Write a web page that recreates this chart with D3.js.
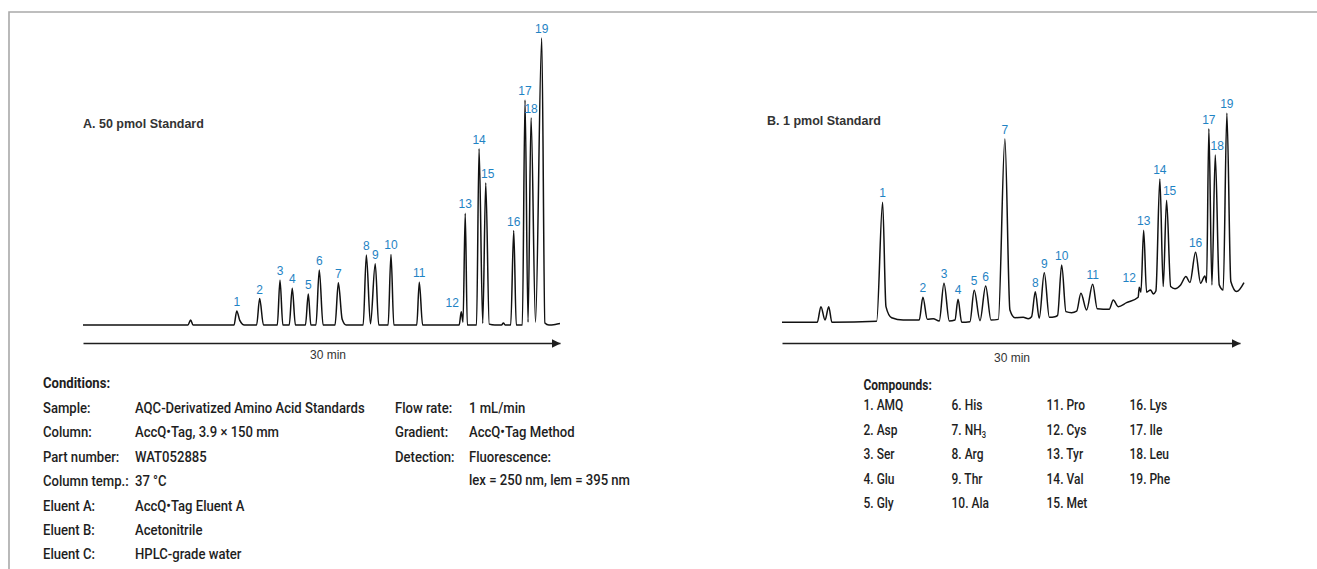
<!DOCTYPE html>
<html lang="en">
<head>
<meta charset="UTF-8">
<script src="https://d3js.org/d3.v7.min.js"></script>
<title>AccQ-Tag amino acid standards</title>
<style>
  body { margin: 0; background: #fff; }
  svg { display: block; }
</style>
</head>
<body>
<svg id="plot"></svg>
<script>
// peak numbers, same order in both runs
const peakNo = [1, 2, 3, 4, 5, 6, 7, 8, 9, 10, 11, 12, 13, 14, 15, 16, 17, 18, 19];

// A. 50 pmol standard: apex time (min) and signal (% of tallest peak)
const peakTimeA   = [9.67, 11.11, 12.39, 13.16, 14.17, 14.86, 16.06, 17.82, 18.38, 19.37, 21.15, 23.79, 24.04, 24.91, 25.33, 27.09, 27.80, 28.18, 28.85];
const peakHeightA = [4.9, 9.2, 15.6, 12.8, 10.8, 19.2, 14.7, 24.4, 21.3, 24.6, 14.9, 4.6, 38.9, 61.4, 49.5, 32.9, 78.4, 72.2, 100];
// points of the trace between the apexes (feet, valleys, small unnumbered bumps)
const baseTimeA   = [0, 6.60, 6.77, 6.92, 9.50, 9.86, 10.15, 10.92, 11.35, 12.22, 12.57, 12.97, 13.36, 13.99, 14.33, 14.65, 15.10,
                     15.85, 16.30, 16.55, 17.62, 18.08, 18.60, 19.19, 19.55, 20.99, 21.36, 23.66, 23.90, 24.17, 24.75, 25.14,
                     25.55, 25.90, 26.32, 26.44, 26.55, 26.90, 27.25, 27.63, 27.99, 28.46, 29.05, 29.30, 29.70, 30.0];
const baseSignalA = [0, 0, 1.7, 0, 0, 1.6, 0, 0, 0, 0, 0, 0, 0, 0, 0, 0, 0,
                     0, 2.0, 0, 0, 0.4, 0, 0, 0, 0, 0, 0, 1.0, 0, 0, 0.6,
                     0.3, 0, 0, 0.7, 0, 0, 0, 0, 1.0, 1.0, 0.7, 0, 0.2, 0.5];

// B. 1 pmol standard
const peakTimeB   = [6.59, 9.23, 10.61, 11.53, 12.59, 13.34, 14.60, 16.59, 17.18, 18.32, 20.35, 23.40, 23.69, 24.75, 25.19, 27.09, 27.96, 28.38, 29.14];
const peakHeightB = [57.4, 12.0, 18.7, 11.0, 15.3, 17.4, 87.7, 14.6, 23.7, 27.4, 18.2, 16.8, 44.0, 68.6, 58.4, 33.5, 92.6, 80.0, 100];
const baseTimeB   = [0, 2.31, 2.55, 2.82, 3.06, 3.27, 6.20, 6.81, 7.18, 7.94, 8.99, 9.52, 9.91, 10.30, 10.96, 11.33, 11.77, 12.31,
                     12.97, 13.69, 14.17, 14.93, 15.26, 15.80, 16.13, 16.35, 16.85, 17.51, 17.88, 18.05, 18.60, 18.97, 19.30,
                     19.58, 19.95, 20.65, 21.43, 21.70, 22.02, 22.57, 23.33, 23.51, 23.88, 24.14, 24.32, 24.49, 24.97, 25.46,
                     25.74, 26.11, 26.46, 26.72, 27.42, 27.70, 27.81, 28.16, 28.64, 28.90, 29.40, 29.78, 30.26];
const baseSignalB = [0, 0, 7.5, 1.1, 7.5, 0, 0.5, 7.5, 2.2, 1.1, 1.1, 1.4, 1.7, 0.6, 0.6, 1.1, 0, 0.3,
                     0.8, 1.1, 1.4, 5.9, 2.2, 2.4, 1.7, 2.7, 1.9, 2.4, 2.7, 3.3, 5.1, 4.6, 5.3,
                     13.9, 5.9, 6.5, 6.2, 10.7, 7.5, 9.4, 12.0, 14.4, 14.4, 15.5, 13.6, 15.0, 17.1, 17.1,
                     16.1, 17.9, 21.9, 19.0, 18.7, 22.2, 19.0, 17.9, 17.9, 15.5, 19.5, 14.7, 19.0];

// conditions table
const condLabels  = ["Sample:", "Column:", "Part number:", "Column temp.:", "Eluent A:", "Eluent B:", "Eluent C:"];
const condValues  = ["AQC-Derivatized Amino Acid Standards", "AccQ\u2022Tag, 3.9 \u00d7 150 mm", "WAT052885", "37 \u00b0C",
                     "AccQ\u2022Tag Eluent A", "Acetonitrile", "HPLC-grade water"];
const condLabels2 = ["Flow rate:", "Gradient:", "Detection:", ""];
const condValues2 = ["1 mL/min", "AccQ\u2022Tag Method", "Fluorescence:", "lex = 250 nm, lem = 395 nm"];

// compounds legend
const compoundNames = ["AMQ", "Asp", "Ser", "Glu", "Gly", "His", "NH3", "Arg", "Thr", "Ala",
                       "Pro", "Cys", "Tyr", "Val", "Met", "Lys", "Ile", "Leu", "Phe"];

const width = 1317, height = 569;
const svg = d3.select("#plot").attr("width", width).attr("height", height);

const ink = "#1e1e1e";
const labelBlue = "#1f83c4";
const sansFont = "'Liberation Sans', Arial, sans-serif";
const narrowFont = "Roboto, 'Noto Sans', sans-serif";

// frame line, top and left
svg.append("path")
    .attr("d", `M${width},12 H9 V${height}`)
    .attr("fill", "none")
    .attr("stroke", "#a9a9a9")
    .attr("stroke-width", 1.6);

svg.append("defs").append("marker")
    .attr("id", "arrow")
    .attr("markerUnits", "userSpaceOnUse")
    .attr("markerWidth", 10).attr("markerHeight", 10)
    .attr("viewBox", "0 -5 10 10")
    .attr("refX", 9).attr("refY", 0)
    .attr("orient", "auto")
    .append("path")
    .attr("d", "M0,-4.5 L9,0 L0,4.5 Z")
    .attr("fill", ink);

function drawRun(run) {
    const x = d3.scaleLinear().domain([0, 30]).range(run.xRange);
    const y = d3.scaleLinear().domain([0, 100]).range(run.yRange);

    const peaks = peakNo.map((n, i) => ({ n: n, t: run.peakTime[i], s: run.peakHeight[i] }));
    const pts = run.baseTime.map((t, i) => ({ t: t, s: run.baseSignal[i] }))
        .concat(peaks)
        .sort((a, b) => a.t - b.t);

    const line = d3.line()
        .x(d => x(d.t))
        .y(d => y(d.s))
        .curve(d3.curveMonotoneX);

    const g = svg.append("g");
    g.append("path")
        .attr("d", line(pts))
        .attr("fill", "none")
        .attr("stroke", "#111")
        .attr("stroke-width", 1.5)
        .attr("stroke-linejoin", "round");

    // time axis: plain arrow, no ticks
    const axis = d3.axisBottom(x).tickValues([]).tickSizeOuter(0);
    g.append("g")
        .attr("transform", `translate(0,${run.axisY})`)
        .call(axis)
        .call(a => a.select(".domain")
            .attr("stroke", ink)
            .attr("stroke-width", 1.5)
            .attr("marker-end", "url(#arrow)"));

    g.append("text")
        .attr("x", run.minLabel[0]).attr("y", run.minLabel[1])
        .attr("text-anchor", "middle")
        .attr("font-family", sansFont).attr("font-size", 12)
        .attr("fill", "#333")
        .text("30 min");

    g.append("text")
        .attr("x", run.title[0]).attr("y", run.title[1])
        .attr("font-family", sansFont).attr("font-size", 12.5)
        .attr("font-weight", "bold")
        .attr("fill", "#333")
        .text(run.name);

    g.selectAll(".pk")
        .data(peaks)
        .enter().append("text")
        .attr("class", "pk")
        .attr("x", d => x(d.t) + (run.nudge[d.n] || 0))
        .attr("y", d => y(d.s) - 5)
        .attr("text-anchor", "middle")
        .attr("font-family", sansFont).attr("font-size", 12)
        .attr("fill", labelBlue)
        .text(d => d.n);
}

drawRun({
    name: "A. 50 pmol Standard",
    peakTime: peakTimeA, peakHeight: peakHeightA,
    baseTime: baseTimeA, baseSignal: baseSignalA,
    xRange: [83, 560], yRange: [325, 38], axisY: 343,
    title: [83, 128], minLabel: [328, 359],
    nudge: { 12: -9, 15: 2 }
});

drawRun({
    name: "B. 1 pmol Standard",
    peakTime: peakTimeB, peakHeight: peakHeightB,
    baseTime: baseTimeB, baseSignal: baseSignalB,
    xRange: [782, 1240], yRange: [322.3, 113.3], axisY: 343,
    title: [767, 124.5], minLabel: [1012, 362],
    nudge: { 12: -10, 15: 3, 18: 2 }
});

// condensed text helper (the table face is a narrow one)
function narrow(sel, x, y, str, size, squeeze, bold) {
    return sel.append("text")
        .attr("transform", `translate(${x},${y}) scale(${squeeze},1)`)
        .attr("font-family", narrowFont)
        .attr("font-size", size)
        .attr("font-weight", bold ? "bold" : 500)
        .attr("fill", ink)
        .text(str);
}

const cond = svg.append("g");
const cSize = 15.5, cSq = 0.845;
narrow(cond, 43, 388, "Conditions:", cSize, cSq, true);
const rowY = i => 413 + i * 24.4;
condLabels.forEach((l, i) => narrow(cond, 43, rowY(i), l, cSize, cSq));
condValues.forEach((v, i) => narrow(cond, 135, rowY(i), v, cSize, cSq));
condLabels2.forEach((l, i) => narrow(cond, 395, rowY(i), l, cSize, cSq));
condValues2.forEach((v, i) => narrow(cond, 469, i < 3 ? rowY(i) : rowY(2) + 23, v, cSize, cSq));

const comp = svg.append("g");
const kSize = 15, kSq = 0.8;
narrow(comp, 863.5, 390, "Compounds:", kSize, kSq, true);
const colX = [863.5, 951.5, 1046.5, 1129.5];
compoundNames.forEach((name, i) => {
    const t = narrow(comp, colX[Math.floor(i / 5)], 410 + (i % 5) * 24.5, "", kSize, kSq);
    const m = name.match(/^([A-Za-z]+?)(\d+)$/);
    if (m) {
        t.append("tspan").text(`${peakNo[i]}. ${m[1]}`);
        t.append("tspan").attr("font-size", 9.5).attr("dy", 3).text(m[2]);
    } else {
        t.text(`${peakNo[i]}. ${name}`);
    }
});
</script>
</body>
</html>
